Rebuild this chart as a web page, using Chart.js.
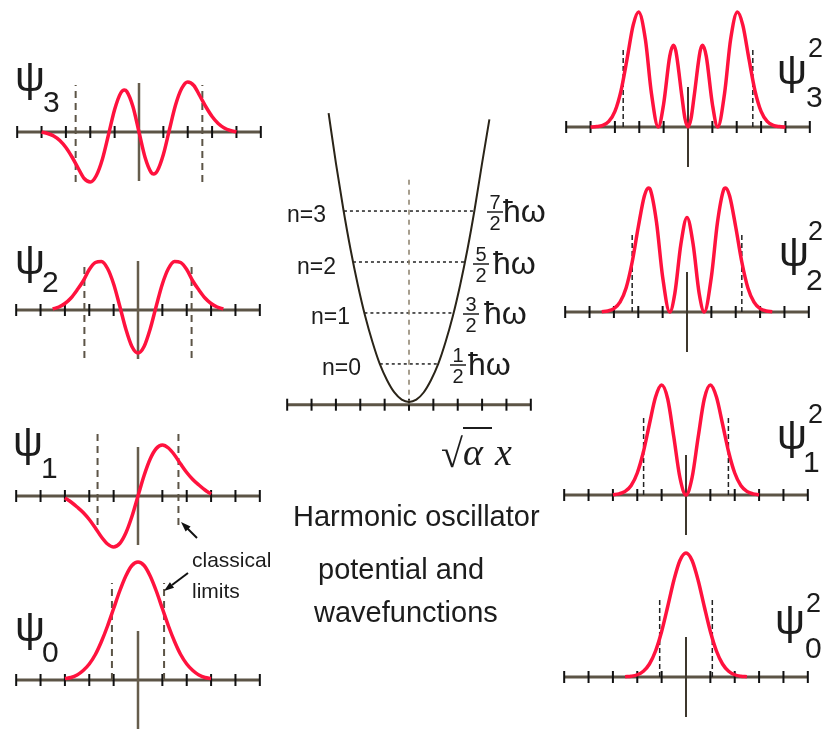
<!DOCTYPE html>
<html>
<head>
<meta charset="utf-8">
<script src="https://cdn.jsdelivr.net/npm/chart.js@4.4.1/dist/chart.umd.min.js"></script>
<style>
  body { margin: 0; background: #fff; width: 828px; height: 730px; overflow: hidden; position: relative; }
  canvas { position: absolute; }
  svg { position: absolute; left: 0; top: 0; }
  .sans { font-family: "Liberation Sans", Arial, sans-serif; fill: #1c1c1c; }
  .psi { font-size: 42px; }
  .sub { font-size: 30px; }
  .sup { font-size: 27px; }
  .lvl { font-size: 23px; }
  .frac { font-size: 20px; }
  .hw { font-size: 32px; }
  .title { font-size: 29px; }
  .note { font-size: 21px; }
  .math { font-family: "Liberation Serif", "DejaVu Serif", serif; font-style: italic; font-size: 38px; fill: #1c1c1c; }
</style>
</head>
<body>
<svg id="labels" width="828" height="730">
  <!-- psi_n -->
  <text class="sans psi" x="15" y="91">ψ</text><text class="sans sub" x="43" y="112">3</text>
  <text class="sans psi" x="15" y="274">ψ</text><text class="sans sub" x="42" y="292">2</text>
  <text class="sans psi" x="13" y="456">ψ</text><text class="sans sub" x="41" y="478">1</text>
  <text class="sans psi" x="15" y="641">ψ</text><text class="sans sub" x="42" y="662">0</text>
  <!-- psi_n^2 -->
  <text class="sans psi" x="777" y="84">ψ</text><text class="sans sup" x="808" y="57">2</text><text class="sans sub" x="806" y="107">3</text>
  <text class="sans psi" x="779" y="266">ψ</text><text class="sans sup" x="808" y="240">2</text><text class="sans sub" x="806" y="290">2</text>
  <text class="sans psi" x="777" y="449">ψ</text><text class="sans sup" x="808" y="423">2</text><text class="sans sub" x="803" y="472">1</text>
  <text class="sans psi" x="775" y="634">ψ</text><text class="sans sup" x="806" y="612">2</text><text class="sans sub" x="805" y="658">0</text>
  <!-- levels -->
  <text class="sans lvl" x="287" y="222">n=3</text>
  <text class="sans lvl" x="297" y="274">n=2</text>
  <text class="sans lvl" x="311" y="324">n=1</text>
  <text class="sans lvl" x="322" y="375">n=0</text>
  <g id="fracs"></g>
  <!-- sqrt(alpha) x -->
  <text class="math" x="441" y="467" style="font-style:normal;font-size:40px">√</text>
  <line x1="463" y1="428" x2="492" y2="428" stroke="#1c1c1c" stroke-width="2"/>
  <text class="math" x="463" y="465">α</text>
  <text class="math" x="495" y="465">x</text>
  <!-- title -->
  <text class="sans title" x="293" y="526">Harmonic oscillator</text>
  <text class="sans title" x="318" y="579">potential and</text>
  <text class="sans title" x="314" y="622">wavefunctions</text>
  <!-- classical limits -->
  <text class="sans note" x="192" y="567">classical</text>
  <text class="sans note" x="192" y="598">limits</text>
  <line x1="197" y1="538" x2="187" y2="528" stroke="#111" stroke-width="2"/>
  <polygon points="181,522 190.6,526.6 185.6,531.6" fill="#111"/>
  <line x1="188" y1="573" x2="172" y2="585" stroke="#111" stroke-width="2"/>
  <polygon points="164,591 174.1,587.8 169.9,582.2" fill="#111"/>
</svg>
<script>
// axis ticks (units of sqrt(alpha) x)
const tickValues = [-5, -4, -3, -2, -1, 0, 1, 2, 3, 4, 5];

// shared x grids
const xGrid3 = [-3, -2.75, -2.5, -2.25, -2, -1.75, -1.5, -1.25, -1, -0.75, -0.5, -0.25, 0,
  0.25, 0.5, 0.75, 1, 1.25, 1.5, 1.75, 2, 2.25, 2.5, 2.75, 3];
const xGrid35 = [-3.5, -3.25, -3, -2.75, -2.5, -2.25, -2, -1.75, -1.5, -1.25, -1, -0.75, -0.5, -0.25, 0,
  0.25, 0.5, 0.75, 1, 1.25, 1.5, 1.75, 2, 2.25, 2.5, 2.75, 3, 3.25, 3.5];
const xGrid25 = [-2.5, -2.25, -2, -1.75, -1.5, -1.25, -1, -0.75, -0.5, -0.25, 0,
  0.25, 0.5, 0.75, 1, 1.25, 1.5, 1.75, 2, 2.25, 2.5];

// wavefunctions (left column)
const psi0 = [0.03, 0.05, 0.10, 0.19, 0.32, 0.51, 0.77, 1.08, 1.43, 1.78, 2.08, 2.29, 2.36,
  2.29, 2.08, 1.78, 1.43, 1.08, 0.77, 0.51, 0.32, 0.19, 0.10, 0.05, 0.03];
const psi1 = [-0.04, -0.12, -0.22, -0.33, -0.47, -0.64, -0.82, -0.96, -1.02, -0.95, -0.74, -0.41, 0,
  0.41, 0.74, 0.95, 1.02, 0.96, 0.82, 0.64, 0.47, 0.33, 0.22, 0.12, 0.04];
const psi2 = [0.02, 0.06, 0.13, 0.24, 0.40, 0.58, 0.81, 0.95, 0.97, 0.83, 0.52, 0.08, -0.38, -0.73, -0.86,
  -0.73, -0.38, 0.08, 0.52, 0.83, 0.97, 0.95, 0.81, 0.58, 0.40, 0.24, 0.13, 0.06, 0.02];
const psi3X = [-4, -3.75, -3.5, -3.25, -3, -2.75, -2.5, -2.25, -2, -1.75, -1.5, -1.25, -1, -0.75, -0.6, -0.5, -0.25, 0,
  0.25, 0.5, 0.6, 0.75, 1, 1.25, 1.5, 1.75, 2, 2.25, 2.5, 2.75, 3, 3.25, 3.5, 3.75, 4];
const psi3 = [0, -0.03, -0.08, -0.17, -0.31, -0.50, -0.72, -0.93, -1.0, -0.87, -0.54, -0.05, 0.45, 0.78, 0.84, 0.81, 0.51, 0,
  -0.51, -0.81, -0.84, -0.78, -0.45, 0.05, 0.54, 0.87, 1.0, 0.93, 0.72, 0.50, 0.31, 0.17, 0.08, 0.03, 0];

// probability densities (right column)
const prob0 = [0.005, 0.016, 0.045, 0.116, 0.26, 0.52, 0.91, 1.41, 1.93, 2.33, 2.48,
  2.33, 1.93, 1.41, 0.91, 0.52, 0.26, 0.116, 0.045, 0.016, 0.005];
const prob1 = [0.006, 0.023, 0.072, 0.19, 0.44, 0.86, 1.42, 1.96, 2.2, 1.92, 1.16, 0.35, 0,
  0.35, 1.16, 1.92, 2.2, 1.96, 1.42, 0.86, 0.44, 0.19, 0.072, 0.023, 0.006];
const prob2X = [-3.5, -3.25, -3, -2.75, -2.5, -2.25, -2, -1.75, -1.58, -1.5, -1.25, -1, -0.71, -0.5, -0.25, 0,
  0.25, 0.5, 0.71, 1, 1.25, 1.5, 1.58, 1.75, 2, 2.25, 2.5, 2.75, 3, 3.25, 3.5];
const prob2 = [0.005, 0.02, 0.067, 0.196, 0.48, 1.0, 1.70, 2.32, 2.48, 2.44, 1.79, 0.70, 0, 0.37, 1.36, 1.89,
  1.36, 0.37, 0, 0.70, 1.79, 2.44, 2.48, 2.32, 1.70, 1.0, 0.48, 0.196, 0.067, 0.02, 0.005];
const prob3X = [-4, -3.75, -3.5, -3.25, -3, -2.75, -2.5, -2.25, -2.03, -1.75, -1.5, -1.22, -1, -0.75, -0.6, -0.5, -0.25, -0.125, 0,
  0.125, 0.25, 0.5, 0.6, 0.75, 1, 1.22, 1.5, 1.75, 2.03, 2.25, 2.5, 2.75, 3, 3.25, 3.5, 3.75, 4];
const prob3 = [0, 0.009, 0.034, 0.112, 0.313, 0.724, 1.364, 2.037, 2.30, 1.753, 0.669, 0, 0.461, 1.412, 1.636, 1.523, 0.608, 0.17, 0,
  0.17, 0.608, 1.523, 1.636, 1.412, 0.461, 0, 0.669, 1.753, 2.30, 2.037, 1.364, 0.724, 0.313, 0.112, 0.034, 0.009, 0];

// potential (units of hbar omega)
const potX = [-3.3, -3, -2.7, -2.4, -2.1, -1.8, -1.5, -1.2, -0.9, -0.6, -0.3, 0, 0.3, 0.6, 0.9, 1.2, 1.5, 1.8, 2.1, 2.4, 2.7, 3, 3.3];
const potV = [5.42, 4.44, 3.55, 2.75, 2.05, 1.44, 0.93, 0.50, 0.18, -0.06, -0.20, -0.245, -0.20, -0.06, 0.18, 0.50, 0.93, 1.44, 2.05, 2.75, 3.55, 4.44, 5.3];
const levelE = [0.5, 1.5, 2.5, 3.5];
const levelTurn = [1.2, 1.83, 2.3, 2.67];
const levelNum = ['1', '3', '5', '7'];
const potAxis = -0.3;

// classical limits
const limitsLeft = [1.07, 1.66, 2.2, 2.6];
const limitsRight = [1.08, 1.74, 2.25, 2.66];

const RED = 'rgb(255, 18, 62)';
const AXIS = '#5c5446';

function pts(xs, ys) { return xs.map((x, i) => ({ x: x, y: ys[i] })); }

function curve(xs, ys, color, width) {
  return { data: pts(xs, ys), showLine: true, borderColor: color || RED, borderWidth: width || 3.5,
    pointRadius: 0, cubicInterpolationMode: 'monotone', clip: false, order: 0 };
}
function seg(x0, y0, x1, y1, color, width, dash) {
  return { data: [{ x: x0, y: y0 }, { x: x1, y: y1 }], showLine: true, borderColor: color,
    borderWidth: width, borderDash: dash || [], pointRadius: 0, clip: false, order: 3 };
}
function axisLine(level) {
  return { data: tickValues.map(v => ({ x: v, y: level })), showLine: true, borderColor: AXIS, borderWidth: 3,
    pointStyle: 'line', rotation: 90, pointRadius: 6, pointBorderColor: '#111', pointBorderWidth: 2,
    pointBackgroundColor: '#111', clip: false, order: 5 };
}

const svg = document.getElementById('labels');
function addPanel(box, ymin, ymax, sets) {
  const c = document.createElement('canvas');
  c.width = 268; c.height = box.h;
  c.style.left = box.left + 'px'; c.style.top = box.top + 'px';
  document.body.insertBefore(c, svg);
  new Chart(c, {
    type: 'scatter',
    data: { datasets: sets },
    options: {
      responsive: false, animation: false, devicePixelRatio: 1, events: [],
      layout: { padding: 0, autoPadding: false },
      plugins: { legend: { display: false }, tooltip: { enabled: false } },
      scales: {
        x: { type: 'linear', min: -5.5, max: 5.5, display: false },
        y: { type: 'linear', min: ymin, max: ymax, display: false }
      }
    }
  });
}

function leftPanel(box, ymin, ymax, xs, ys, lim, dashY) {
  addPanel(box, ymin, ymax, [
    curve(xs, ys),
    seg(-lim, dashY[0], -lim, dashY[1], AXIS, 2, [7, 5]),
    seg(lim, dashY[0], lim, dashY[1], AXIS, 2, [7, 5]),
    seg(0, -0.98, 0, 0.98, '#665d4c', 2.5),
    axisLine(0)
  ]);
}
function rightPanel(box, ymin, ymax, xs, ys, lim, top) {
  addPanel(box, ymin, ymax, [
    curve(xs, ys),
    seg(-lim, 0, -lim, top, '#222', 1.5, [5, 3]),
    seg(lim, 0, lim, top, '#222', 1.5, [5, 3]),
    seg(0, -0.8, 0, 0.8, '#3d372d', 2),
    axisLine(0)
  ]);
}

leftPanel({ left: 5, top: 72, h: 120 }, -1.2, 1.2, psi3X, psi3, limitsLeft[3], [-1.0, 0.94]);
leftPanel({ left: 4, top: 250, h: 120 }, -1.2, 1.2, xGrid35, psi2, limitsLeft[2], [-0.96, 0.94]);
leftPanel({ left: 4, top: 421, h: 135 }, -1.2, 1.5, xGrid3, psi1, limitsLeft[1], [-0.58, 1.28]);
leftPanel({ left: 4, top: 550, h: 180 }, -1.0, 2.6, xGrid3, psi0, limitsLeft[0], [0, 1.94]);

rightPanel({ left: 554, top: 2, h: 175 }, -1, 2.5, prob3X, prob3, limitsRight[3], 1.58);
rightPanel({ left: 553, top: 177, h: 185 }, -1, 2.7, prob2X, prob2, limitsRight[2], 1.6);
rightPanel({ left: 552, top: 375, h: 170 }, -1, 2.4, xGrid3, prob1, limitsRight[1], 1.6);
rightPanel({ left: 552, top: 542, h: 185 }, -1, 2.7, xGrid25, prob0, limitsRight[0], 1.54);

// potential well with energy levels
const potSets = [curve(potX, potV, '#2a2418', 2), seg(0, potAxis, 0, 4.15, '#8a7f6a', 1.5, [5, 5]), axisLine(potAxis)];
levelE.forEach((e, i) => potSets.push(seg(-levelTurn[i], e, levelTurn[i], e, '#222', 1.5, [3, 3])));
addPanel({ left: 275, top: 104, h: 316 }, -0.6, 5.6, potSets);

// fraction labels  (n+1/2) hbar omega
const fracX = [458, 471, 481, 495];
const hwX = [468, 484, 493, 503];
const lvlY = [363, 312, 262, 210];
const g = document.getElementById('fracs');
const NS = 'http://www.w3.org/2000/svg';
function svgEl(tag, attrs, text) {
  const el = document.createElementNS(NS, tag);
  for (const k in attrs) el.setAttribute(k, attrs[k]);
  if (text) el.textContent = text;
  g.appendChild(el);
}
levelNum.forEach((num, i) => {
  svgEl('text', { class: 'sans frac', x: fracX[i], y: lvlY[i] - 1, 'text-anchor': 'middle' }, num);
  svgEl('line', { x1: fracX[i] - 8, y1: lvlY[i] + 2, x2: fracX[i] + 8, y2: lvlY[i] + 2, stroke: '#1c1c1c', 'stroke-width': 1.5 });
  svgEl('text', { class: 'sans frac', x: fracX[i], y: lvlY[i] + 20, 'text-anchor': 'middle' }, '2');
  svgEl('text', { class: 'sans hw', x: hwX[i], y: lvlY[i] + 12 }, 'ħω');
});
</script>
</body>
</html>
